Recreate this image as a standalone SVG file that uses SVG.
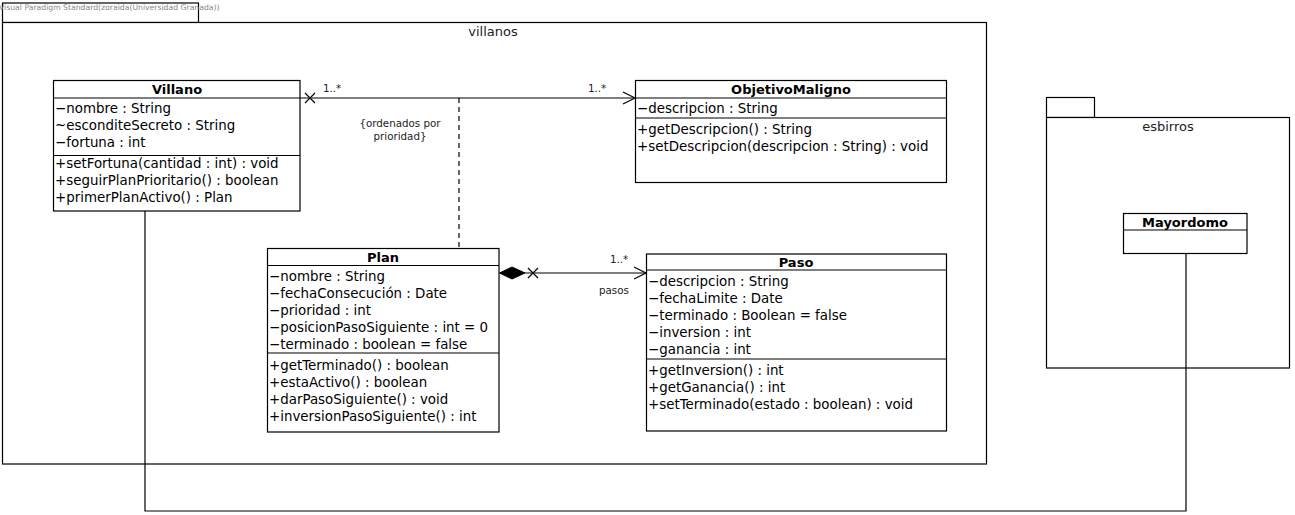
<svg xmlns="http://www.w3.org/2000/svg" width="1295" height="515" viewBox="0 0 1295 515">
<defs>
<style>
.box{fill:#fff;stroke:#000;stroke-width:1.2}
.pkg{fill:#fff;stroke:#000;stroke-width:1.2}
.ln{fill:none;stroke:#000;stroke-width:1.2}
.t{font-family:"DejaVu Sans","Liberation Sans",sans-serif;font-size:13.4px;fill:#000}
.title{font-family:"DejaVu Sans","Liberation Sans",sans-serif;font-size:13px;font-weight:bold;fill:#000;text-anchor:middle}
.pk{font-family:"DejaVu Sans","Liberation Sans",sans-serif;font-size:13px;fill:#222;text-anchor:middle}
.s{font-family:"DejaVu Sans","Liberation Sans",sans-serif;font-size:10.3px;fill:#222}
.wm{font-family:"DejaVu Sans","Liberation Sans",sans-serif;font-size:7.7px;fill:#888}
</style>
</defs>
<rect width="1295" height="515" fill="#fff"/>
<g id="pkg-villanos">
<rect class="pkg" x="2.5" y="3" width="196" height="19.5"/>
<rect class="pkg" x="2.5" y="22.5" width="984" height="441.5"/>
<text class="pk" x="493" y="36">villanos</text>
</g>
<text class="wm" x="-1" y="10">Visual Paradigm Standard(zoraida(Universidad Granada))</text>
<g id="pkg-esbirros">
<rect class="pkg" x="1046.5" y="97.5" width="48" height="20"/>
<rect class="pkg" x="1046.5" y="117.5" width="243" height="250.5"/>
<text class="pk" x="1168" y="131">esbirros</text>
</g>
<g id="connectors">
<path class="ln" d="M145 211 V511 H1186 V253"/>
<path class="ln" d="M300 98 H634"/>
<path class="ln" d="M623 92 L635 98 L623 104"/>
<path class="ln" d="M305 93 L315 103 M315 93 L305 103"/>
<path class="ln" d="M459 98 V248" stroke-dasharray="5,4"/>
<path class="ln" d="M524 273 H646"/>
<path d="M499.5 273 L512 267 L525 273 L512 279 Z" fill="#000" stroke="#000"/>
<path class="ln" d="M634 267 L646 273 L634 279"/>
<path class="ln" d="M528 268 L538 278 M538 268 L528 278"/>
<text class="s" x="323" y="92">1..*</text>
<text class="s" x="588" y="92">1..*</text>
<text class="s" x="400" y="127" text-anchor="middle">{ordenados por</text>
<text class="s" x="400" y="140" text-anchor="middle">prioridad}</text>
<text class="s" x="610" y="263">1..*</text>
<text class="s" x="599" y="294">pasos</text>
</g>
<g id="Villano">
<rect class="box" x="53.5" y="80.5" width="246.5" height="130.5"/>
<path class="ln" d="M53.5 98 H300 M53.5 155.5 H300"/>
<text class="title" x="177" y="94">Villano</text>
<text class="t" x="55" y="112.5">−nombre : String</text>
<text class="t" x="55" y="129.5">~esconditeSecreto : String</text>
<text class="t" x="55" y="146.5">−fortuna : int</text>
<text class="t" x="55" y="168">+setFortuna(cantidad : int) : void</text>
<text class="t" x="55" y="185">+seguirPlanPrioritario() : boolean</text>
<text class="t" x="55" y="202">+primerPlanActivo() : Plan</text>
</g>
<g id="ObjetivoMaligno">
<rect class="box" x="635.5" y="80.5" width="311" height="102"/>
<path class="ln" d="M635.5 98 H946.5 M635.5 118 H946.5"/>
<text class="title" x="791" y="94">ObjetivoMaligno</text>
<text class="t" x="637" y="112.5">−descripcion : String</text>
<text class="t" x="637" y="134">+getDescripcion() : String</text>
<text class="t" x="637" y="151">+setDescripcion(descripcion : String) : void</text>
</g>
<g id="Plan">
<rect class="box" x="267.5" y="248.5" width="231.5" height="183.5"/>
<path class="ln" d="M267.5 265.5 H499 M267.5 353 H499"/>
<text class="title" x="383" y="262">Plan</text>
<text class="t" x="269" y="281">−nombre : String</text>
<text class="t" x="269" y="298">−fechaConsecución : Date</text>
<text class="t" x="269" y="315">−prioridad : int</text>
<text class="t" x="269" y="332">−posicionPasoSiguiente : int = 0</text>
<text class="t" x="269" y="349">−terminado : boolean = false</text>
<text class="t" x="269" y="370">+getTerminado() : boolean</text>
<text class="t" x="269" y="387">+estaActivo() : boolean</text>
<text class="t" x="269" y="404">+darPasoSiguiente() : void</text>
<text class="t" x="269" y="421">+inversionPasoSiguiente() : int</text>
</g>
<g id="Paso">
<rect class="box" x="646.5" y="254" width="300" height="177"/>
<path class="ln" d="M646.5 270 H946.5 M646.5 359 H946.5"/>
<text class="title" x="796" y="267">Paso</text>
<text class="t" x="648" y="286">−descripcion : String</text>
<text class="t" x="648" y="303">−fechaLimite : Date</text>
<text class="t" x="648" y="320">−terminado : Boolean = false</text>
<text class="t" x="648" y="337">−inversion : int</text>
<text class="t" x="648" y="354">−ganancia : int</text>
<text class="t" x="648" y="375">+getInversion() : int</text>
<text class="t" x="648" y="392">+getGanancia() : int</text>
<text class="t" x="648" y="409">+setTerminado(estado : boolean) : void</text>
</g>
<g id="Mayordomo">
<rect class="box" x="1123.5" y="213.5" width="123.5" height="40"/>
<path class="ln" d="M1123.5 230 H1247"/>
<text class="title" x="1185" y="227">Mayordomo</text>
</g>
</svg>
